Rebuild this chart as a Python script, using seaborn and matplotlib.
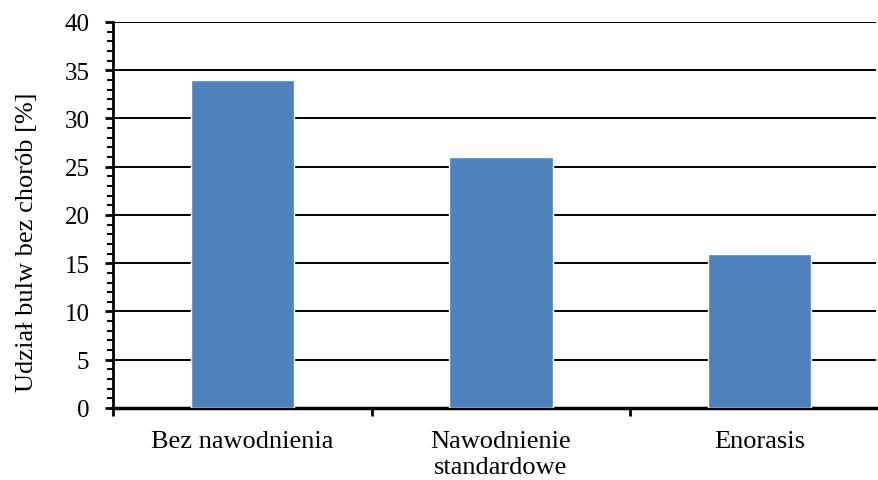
import matplotlib
matplotlib.use("Agg")
import matplotlib.pyplot as plt
from matplotlib.ticker import MultipleLocator, FixedLocator
import seaborn as sns
import pandas as pd

categories = ["Bez nawodnienia", "Nawodnienie\nstandardowe", "Enorasis"]
values = [34, 26, 16]

sns.set_style("white")
plt.rcParams["font.family"] = ["Liberation Serif", "DejaVu Serif"]
plt.rcParams["text.color"] = "black"
plt.rcParams["axes.labelcolor"] = "black"
plt.rcParams["xtick.color"] = "black"
plt.rcParams["ytick.color"] = "black"

df = pd.DataFrame({"kategoria": categories, "udzial": values})

fig = plt.figure(figsize=(8.79, 4.81), dpi=100)
ax = fig.add_axes([0.1286, 0.1497, 0.868, 0.8025])

sns.barplot(data=df, x="kategoria", y="udzial", color="#4F81BD",
            saturation=1, width=0.4, ax=ax, zorder=3)

ax.set_ylim(0, 40)
ax.set_xlim(-0.5, 2.45)
ax.yaxis.set_major_locator(MultipleLocator(5))
ax.yaxis.set_minor_locator(MultipleLocator(1))
ax.grid(axis="y", which="major", color="black", linewidth=1.4, zorder=0)
ax.set_axisbelow(True)

ax.xaxis.set_minor_locator(FixedLocator([-0.5, 0.5, 1.5, 2.5]))
ax.tick_params(axis="x", which="major", length=0, pad=16, labelsize=19,
               labelcolor="black")
ax.tick_params(axis="x", which="minor", length=6, width=2, direction="out",
               color="black", bottom=True)
ax.tick_params(axis="y", which="major", length=6, width=2, direction="out",
               color="black", left=True, labelsize=18, pad=11,
               labelcolor="black")
ax.tick_params(axis="y", which="minor", length=4, width=1.5, direction="out",
               color="black", left=True)

for s in ["top", "right"]:
    ax.spines[s].set_visible(False)
ax.spines["left"].set_linewidth(2)
ax.spines["bottom"].set_linewidth(2.5)
ax.spines["left"].set_color("black")
ax.spines["bottom"].set_color("black")

ax.set_xlabel("")
ax.set_ylabel("Udział bulw bez chorób [%]", fontsize=19, color="black")
ax.yaxis.set_label_coords(-0.098, 0.431)

for lbl in ax.get_xticklabels():
    lbl.set_linespacing(1.2)
    lbl.set_verticalalignment("top")

fig.savefig("out.png", dpi=100)
